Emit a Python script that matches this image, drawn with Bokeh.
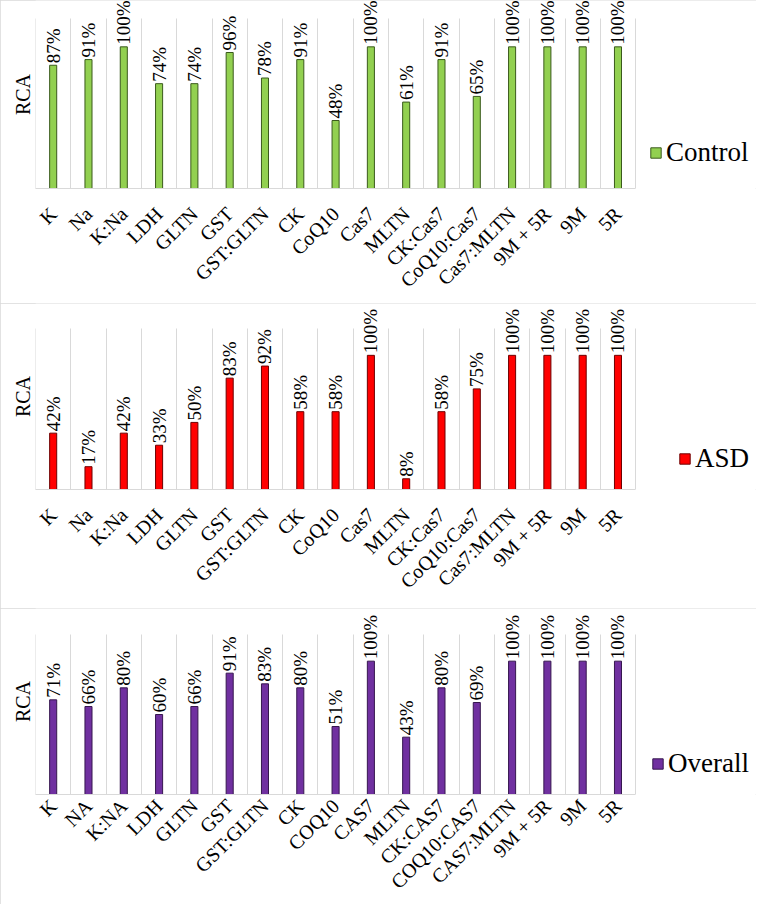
import math
import numpy as np
from bokeh.plotting import figure
from bokeh.layouts import column
from bokeh.core.properties import value
from bokeh.models import (ColumnDataSource, LabelSet, Legend, LegendItem,
                          FixedTicker, Range1d)
from bokeh.embed import file_html
from bokeh.resources import INLINE

# ---------------- data ----------------
control_cats = ["K", "Na", "K:Na", "LDH", "GLTN", "GST", "GST:GLTN", "CK", "CoQ10",
                "Cas7", "MLTN", "CK:Cas7", "CoQ10:Cas7", "Cas7:MLTN", "9M + 5R", "9M", "5R"]
control_vals = [87, 91, 100, 74, 74, 96, 78, 91, 48, 100, 61, 91, 65, 100, 100, 100, 100]

asd_cats = ["K", "Na", "K:Na", "LDH", "GLTN", "GST", "GST:GLTN", "CK", "CoQ10",
            "Cas7", "MLTN", "CK:Cas7", "CoQ10:Cas7", "Cas7:MLTN", "9M + 5R", "9M", "5R"]
asd_vals = [42, 17, 42, 33, 50, 83, 92, 58, 58, 100, 8, 58, 75, 100, 100, 100, 100]

overall_cats = ["K", "NA", "K:NA", "LDH", "GLTN", "GST", "GST:GLTN", "CK", "COQ10",
                "CAS7", "MLTN", "CK:CAS7", "COQ10:CAS7", "CAS7:MLTN", "9M + 5R", "9M", "5R"]
overall_vals = [71, 66, 80, 60, 66, 91, 83, 80, 51, 100, 43, 80, 69, 100, 100, 100, 100]

FONT = "Liberation Serif"
GRID = "#d9d9d9"
AXIS_MAX = 120          # value at the top of the gridlines
FIG_W = 756
LEFT = 35               # frame left (px inside figure)
CAT_PX = 35.3           # px per category


def panel(cats, vals, name, fill, line, height, grid_px, base_px, leg_x, leg_y,
          standoff):
    n = len(cats)
    centers = list(np.arange(n) + 0.5)
    src = ColumnDataSource(dict(x=centers, val=vals,
                                lab=[f"{v}%" for v in vals]))
    frame_w = FIG_W - LEFT
    x_end = frame_w / CAT_PX
    y_end = AXIS_MAX * base_px / grid_px
    p = figure(x_range=Range1d(-0.001, x_end - 0.001), y_range=Range1d(0, y_end),
               width=FIG_W, height=height,
               output_backend="svg", toolbar_location=None,
               min_border_left=LEFT, min_border_right=0,
               min_border_top=0, min_border_bottom=height - base_px)
    p.outline_line_color = None
    r = p.vbar(x="x", top="val", width=0.2, source=src,
               fill_color=fill, line_color=line, line_width=1)

    labels = LabelSet(x="x", y="val", text="lab", source=src, angle=math.pi / 2,
                      text_align="left", text_baseline="middle", y_offset=2,
                      text_font=value(FONT), text_font_size=value("19px"),
                      text_color="black")
    p.add_layout(labels)

    # category axis
    xa = p.xaxis[0]
    xa.ticker = FixedTicker(ticks=centers)
    xa.major_label_overrides = {c: lab for c, lab in zip(centers, cats)}
    xa.bounds = (0, n)
    xa.axis_line_color = GRID
    xa.major_tick_line_color = None
    xa.minor_tick_line_color = None
    xa.major_tick_out = 0
    xa.major_tick_in = 0
    xa.major_label_orientation = math.pi / 4
    xa.major_label_text_font = FONT
    xa.major_label_text_font_size = "20px"
    xa.major_label_text_color = "black"
    xa.major_label_standoff = standoff

    ya = p.yaxis[0]
    ya.ticker = FixedTicker(ticks=[])
    ya.axis_line_color = None
    ya.major_tick_line_color = None
    ya.minor_tick_line_color = None
    ya.major_tick_out = 0
    ya.major_tick_in = 0
    ya.major_label_standoff = 0
    ya.axis_label = "RCA"
    ya.axis_label_text_font = FONT
    ya.axis_label_text_font_size = "20px"
    ya.axis_label_text_font_style = "normal"
    ya.axis_label_text_color = "black"
    ya.axis_label_standoff = 2

    # grid lines between categories
    p.ygrid.grid_line_color = None
    p.xgrid.ticker = FixedTicker(ticks=list(range(n + 1)))
    p.xgrid.grid_line_color = GRID
    p.xgrid.cross_bounds = (0, AXIS_MAX)

    legend = Legend(items=[LegendItem(label=name, renderers=[r])],
                    location=(leg_x, leg_y), border_line_color=None,
                    background_fill_alpha=0, padding=0, margin=0,
                    glyph_width=13, glyph_height=13, label_standoff=4,
                    label_text_font=FONT, label_text_font_size="27px",
                    label_text_color="black")
    p.add_layout(legend)
    p.styles = {"outline": "1px solid #d9d9d9", "outline-offset": "-1px"}
    return p


p1 = panel(control_cats, control_vals, "Control", "#92d050", "#3a5a1c",
           303, 170, 188, 614, 20, 22)
p2 = panel(asd_cats, asd_vals, "ASD", "#ff0000", "#6e0000",
           305, 161, 186, 643, 15, 22)
p3 = panel(overall_cats, overall_vals, "Overall", "#7030a0", "#36174f",
           296, 160, 186, 616, 15, 8)

layout = column(p1, p2, p3, spacing=0)
open("out.html", "w").write(file_html(layout, INLINE))
